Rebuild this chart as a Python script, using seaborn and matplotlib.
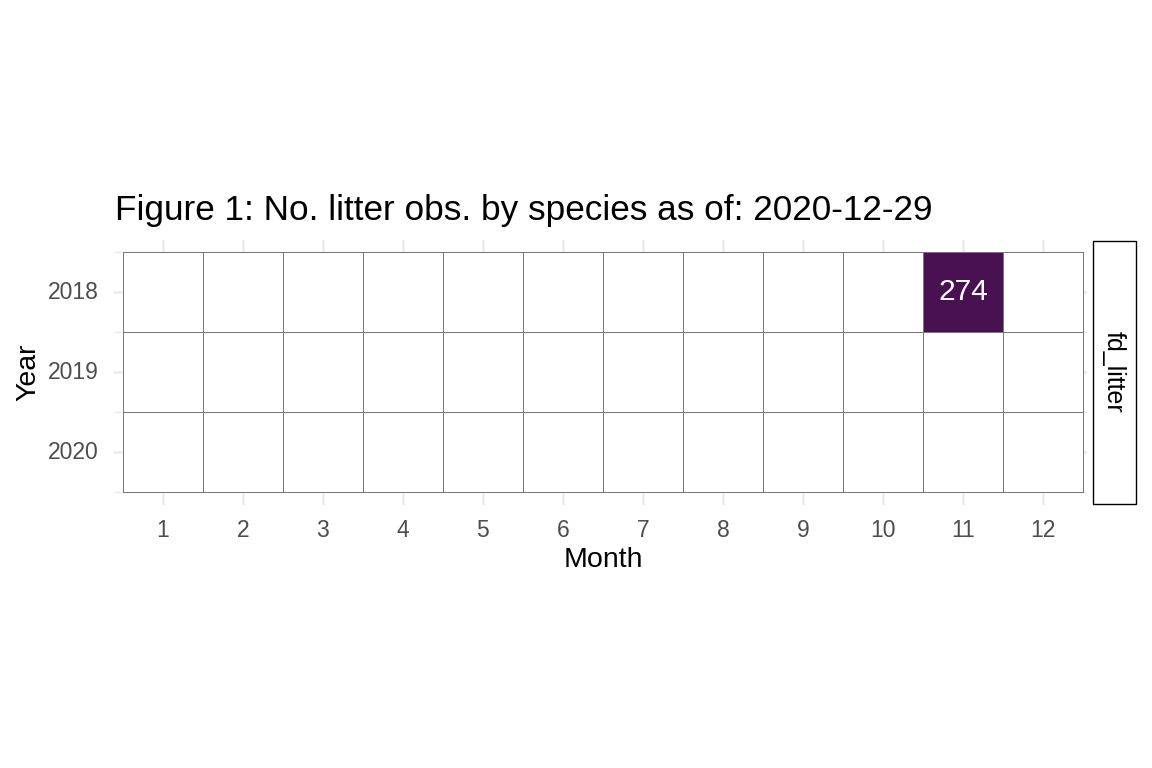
import numpy as np
import pandas as pd
import matplotlib
matplotlib.use("Agg")
import matplotlib.pyplot as plt
from matplotlib.colors import ListedColormap
from matplotlib.patches import Rectangle
from matplotlib.ticker import FixedLocator
import seaborn as sns

# observations (only one month has litter records)
years = [2018, 2019, 2020]
months = list(range(1, 13))
obs_year = [2018]
obs_month = [11]
obs_count = [274]
facet_label = "fd_litter"
title = "Figure 1: No. litter obs. by species as of: 2020-12-29"

W, H = 1152, 768

obs = pd.DataFrame({"Year": obs_year, "Month": obs_month, "n": obs_count})
grid = obs.pivot(index="Year", columns="Month", values="n").reindex(index=years, columns=months)

sns.set_theme(style="white")
plt.rcParams["font.family"] = ["Liberation Sans", "DejaVu Sans"]

fig = plt.figure(figsize=(W / 100, H / 100), dpi=100)
ax = fig.add_axes([114 / W, 1 - 505 / H, (1087 - 114) / W, (505 - 240) / H])

edge = "#777777"
# empty tiles
sns.heatmap(np.zeros(grid.shape), ax=ax, cmap=ListedColormap(["white"]), cbar=False,
            linewidths=0.6, linecolor=edge)
# filled tiles
sns.heatmap(grid, ax=ax, mask=grid.isna(), cmap=ListedColormap(["#491152"]), cbar=False,
            linewidths=0.6, linecolor=edge, annot=True, fmt=".0f",
            annot_kws={"color": "white", "size": 21.5})

ax.set_xlim(-0.11, 12.05)
ax.set_ylim(3.16, -0.15)
ax.set_xlabel("")
ax.set_ylabel("")
for s in ax.spines.values():
    s.set_visible(False)

ax.set_xticks(np.arange(len(months)) + 0.5)
ax.set_xticklabels([str(m) for m in months])
ax.set_yticks(np.arange(len(years)) + 0.5)
ax.set_yticklabels([str(y) for y in years], rotation=0)
ax.yaxis.set_minor_locator(FixedLocator(np.arange(len(years) + 1)))
ax.tick_params(axis="both", which="both", length=0, labelsize=16.5, labelcolor="#4d4d4d")
ax.tick_params(axis="x", pad=10)
ax.tick_params(axis="y", pad=11)

ax.set_axisbelow(True)
ax.grid(True, which="major", color="#ebebeb", linewidth=1.8)
ax.grid(True, which="minor", axis="y", color="#ebebeb", linewidth=0.9)

fig.text(115 / W, 1 - 220 / H, title, fontsize=25.3, color="black", ha="left", va="baseline")
fig.text(603 / W, 1 - 567 / H, "Month", fontsize=20.5, color="black", ha="center", va="baseline")
fig.text(28 / W, 1 - 372 / H, "Year", fontsize=20.5, color="black", ha="center", va="center",
         rotation=90)

# facet strip
fig.patches.append(Rectangle((1093 / W, 1 - 504 / H), (1136 - 1093) / W, (504 - 241) / H,
                             transform=fig.transFigure, facecolor="white", edgecolor="black",
                             linewidth=1.0, figure=fig))
fig.text(1114 / W, 1 - 372 / H, facet_label, fontsize=18, color="black", ha="center",
         va="center", rotation=270)

fig.savefig("out.png", dpi=100, facecolor="white")
